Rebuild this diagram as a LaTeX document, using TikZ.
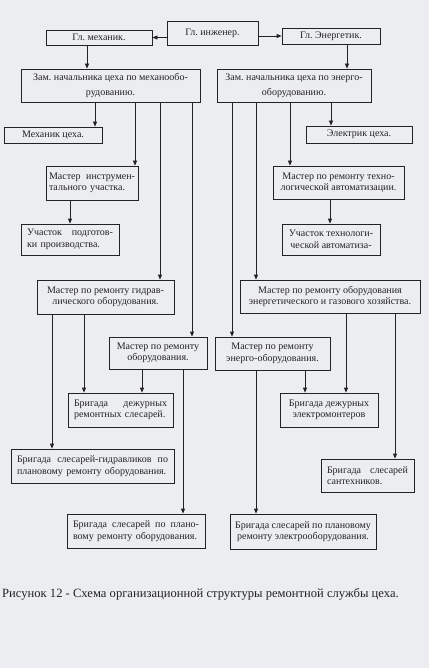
\documentclass[tikz,border=0pt]{standalone}
\usepackage{fontspec}
\setmainfont{Liberation Serif}
\usetikzlibrary{arrows.meta}
\definecolor{paper}{RGB}{236,237,240}
\definecolor{ink}{RGB}{35,35,35}
\frenchspacing
\newcommand\jline[1]{\hbox to \hsize{#1}}
\newcommand\bx[7][]{%
  \pgfmathsetmacro\bxw{#5-#3}%
  \pgfmathsetmacro\bxh{#6-#4}%
  \node[box,minimum width=\bxw pt,minimum height=\bxh pt,#1] (#2) at ({(#3+#5)/2},{(#4+#6)/2}) {#7};}
\newcommand\lbx[7][]{%
  \pgfmathsetmacro\bxw{#5-#3}%
  \pgfmathsetmacro\bxh{#6-#4}%
  \pgfmathsetmacro\bxt{#5-#3-12}%
  \node[box,align=left,minimum width=\bxw pt,minimum height=\bxh pt,text width=\bxt pt,#1] (#2) at ({(#3+#5)/2},{(#4+#6)/2}) {#7};}
\newcommand\vc[3]{\draw[arr] (#1.south -| #3,0) -- (#2.north -| #3,0);}
\tikzset{
  box/.style={draw=ink,line width=0.8pt,inner sep=0pt,align=center,text=ink,
    font=\fontsize{10}{11.5}\selectfont},
  wide/.style={font=\fontsize{10}{15}\selectfont},
  arr/.style={draw=ink,line width=0.8pt,-{Triangle[length=5pt,width=4pt]}}
}
\begin{document}
\begin{tikzpicture}[x=1pt,y=-1pt]
\fill[paper] (0,0) rectangle (429,668);
\useasboundingbox (0,0) rectangle (429,668);
% top level
\bx{ing}{167}{21}{258}{45}{Гл. инженер.}
\bx{meh}{46}{30}{152}{45}{Гл. механик.}
\bx{en}{282}{28}{380}{44}{Гл. Энергетик.}
\bx[wide]{zm}{21}{69}{200}{102}{Зам. начальника цеха по механообо-\\рудованию.}
\bx[wide]{ze}{217}{69}{371}{102}{Зам. начальника цеха по энерго-\\оборудованию.}
\bx{mc}{4}{127}{102}{143}{Механик цеха.}
\bx{ec}{306}{126}{412}{143}{Электрик цеха.}
% left branch
\lbx[text width=86pt]{mi}{46}{166}{138}{200}{\jline{Мастер\hfill инструмен-}\\тального участка.}
\lbx{up}{21}{224}{119}{255}{\jline{Участок\hfill подготов-}\\ки производства.}
\bx{mg}{37}{280}{174}{314}{Мастер по ремонту гидрав-\\лического оборудования.}
\bx{mro}{109}{337}{207}{369}{Мастер по ремонту\\оборудования.}
\lbx{bdr}{68}{393}{173}{427}{\jline{Бригада\hfill дежурных}\\ремонтных слесарей.}
\lbx{bg}{11}{449}{174}{483}{\jline{Бригада\hfill слесарей-гидравликов\hfill по}\\плановому ремонту оборудования.}
\lbx{bpl}{67}{514}{205}{548}{\jline{Бригада\hfill слесарей\hfill по\hfill плано-}\\вому ремонту оборудования.}
% right branch
\bx{mt}{273}{166}{404}{199}{Мастер по ремонту техно-\\логической автоматизации.}
\bx{ut}{282}{224}{380}{255}{Участок технологи-\\ческой автоматиза-}
\bx{meg}{240}{280}{420}{313}{Мастер по ремонту оборудования\\энергетического и газового хозяйства.}
\bx{meo}{215}{337}{330}{370}{Мастер по ремонту\\энерго-оборудования.}
\bx{bde}{280}{393}{378}{427}{Бригада дежурных\\электромонтеров}
\lbx{bs}{321}{459}{414}{492}{\jline{Бригада\hfill слесарей}\\сантехников.}
\bx{bpe}{230}{514}{376}{549}{Бригада слесарей по плановому\\ремонту электрооборудования.}
% connectors
\draw[arr] (meh.east -| ing.west) -- (meh.east);
\draw[arr] (en.west -| ing.east) -- (en.west);
\vc{meh}{zm}{87}
\vc{en}{ze}{347}
\vc{zm}{mc}{95}
\vc{ze}{ec}{331}
\vc{zm}{mi}{135}
\vc{zm}{mg}{160}
\vc{zm}{mro}{192}
\vc{mi}{up}{70}
\vc{mg}{bdr}{84}
\vc{mg}{bg}{52}
\vc{mro}{bdr}{142}
\vc{mro}{bpl}{183}
\vc{ze}{mt}{290}
\vc{ze}{meg}{256}
\vc{ze}{meo}{232}
\vc{mt}{ut}{330}
\vc{meg}{bde}{346}
\vc{meg}{bs}{395}
\vc{meo}{bde}{305}
\vc{meo}{bpe}{256}
% caption
\node[anchor=west,text=ink,inner sep=0pt,font=\fontsize{12.6}{14}\selectfont] (cap) at (2,594)
  {Рисунок 12 - Схема организационной структуры ремонтной службы цеха.};
\end{tikzpicture}
\end{document}
